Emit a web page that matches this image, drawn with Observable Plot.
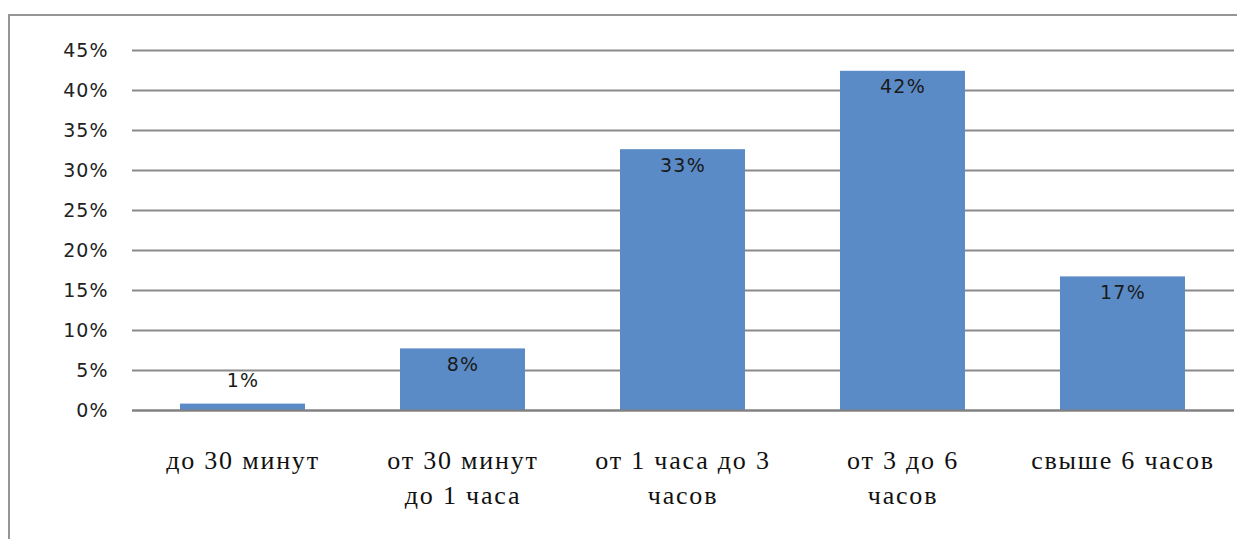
<!DOCTYPE html>
<html><head><meta charset="utf-8">
<script src="https://cdn.jsdelivr.net/npm/d3@7"></script>
<script src="https://cdn.jsdelivr.net/npm/@observablehq/plot@0.6"></script>
<style>
html,body{margin:0;padding:0;background:#fff;overflow:hidden;width:1237px;height:539px}
#wrap{position:relative;width:1237px;height:539px}
#frame{position:absolute;left:8px;top:14px;width:1300px;height:600px;border:2px solid #969696;box-sizing:border-box;pointer-events:none}
#chart{position:absolute;left:0;top:0}
g[aria-label="x-axis tick label"], g[aria-label="x-axis tick label"] text{font-family:"Liberation Serif",Tinos,"Times New Roman",Times,serif !important;letter-spacing:1.8px}
g[aria-label="y-axis tick label"], g[aria-label="y-axis tick label"] text{font-family:"DejaVu Sans",sans-serif !important;letter-spacing:1px}
g.vlabel, g.vlabel text{font-family:"DejaVu Sans",sans-serif !important;letter-spacing:1.2px}
</style></head><body><div id="wrap"><div id="frame"></div><div id="chart"></div></div>
<script>
const categories = ["до 30 минут", "от 30 минут до 1 часа", "от 1 часа до 3 часов", "от 3 до 6 часов", "свыше 6 часов"];
const tickLabels = ["до 30 минут", "от 30 минут\nдо 1 часа", "от 1 часа до 3\nчасов", "от 3 до 6\nчасов", "свыше 6 часов"];
const values = [0.008, 0.077, 0.326, 0.424, 0.167];
const valueLabels = ["1%", "8%", "33%", "42%", "17%"];
const yTicks = [0, 0.05, 0.10, 0.15, 0.20, 0.25, 0.30, 0.35, 0.40, 0.45];

const data = categories.map((c, i) => ({category: c, value: values[i], label: valueLabels[i]}));

const chart = Plot.plot({
  width: 1237, height: 539,
  marginLeft: 132, marginRight: 3, marginTop: 50, marginBottom: 129,
  style: {background: "transparent"},
  x: {domain: categories, paddingInner: 0.43, paddingOuter: 0.215, label: null},
  y: {domain: [0, 0.45], label: null},
  marks: [
    Plot.ruleY(yTicks, {stroke: "#8a8a8a", strokeWidth: 2}),
    Plot.barY(data, {x: "category", y: "value", fill: "#5b8bc7"}),
    Plot.ruleY([0], {stroke: "#808080", strokeWidth: 2}),
    Plot.text(data.filter(d => d.value >= 0.05), {x: "category", y: "value", text: "label", dy: 16, fontSize: 19, fontFamily: "DejaVu Sans", fill: "#1a1a1a", className: "vlabel"}),
    Plot.text(data.filter(d => d.value < 0.05), {x: "category", y: "value", text: "label", dy: -23, fontSize: 19, fontFamily: "DejaVu Sans", fill: "#1a1a1a", className: "vlabel"}),
    Plot.axisY({ticks: yTicks, tickFormat: d3.format(".0%"), tickSize: 0, tickPadding: 24, fontSize: 19, fontFamily: "DejaVu Sans", fill: "#222"}),
    Plot.axisX({tickSize: 0, tickPadding: 34, tickFormat: d => tickLabels[categories.indexOf(d)], fontSize: 26, fontFamily: "Liberation Serif", lineHeight: 1.33, fill: "#111"})
  ]
});
chart.querySelectorAll('g[aria-label="x-axis tick label"]').forEach(g => g.setAttribute("font-family", "Liberation Serif"));
document.getElementById("chart").appendChild(chart);
</script>
</body></html>
